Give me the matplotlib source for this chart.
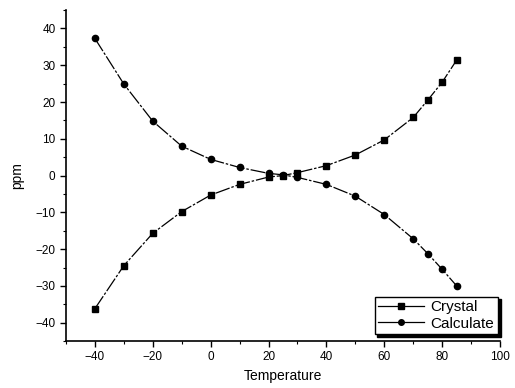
import matplotlib
matplotlib.use("Agg")
from matplotlib import pyplot as plt
from matplotlib.ticker import MultipleLocator

# Values
temperature = [-40, -30, -20, -10, 0, 10, 20, 25, 30, 40, 50, 60, 70, 75, 80, 85]
crystal = [-36.2, -24.5, -15.7, -9.8, -5.3, -2.4, -0.4, 0.0, 0.8, 2.7, 5.6, 9.7, 15.8, 20.5, 25.4, 31.4]
calculate = [37.3, 24.9, 14.8, 8.0, 4.4, 2.2, 0.6, 0.2, -0.5, -2.4, -5.6, -10.6, -17.2, -21.2, -25.5, -30.0]

plt.rcParams['font.family'] = ['Liberation Sans', 'DejaVu Sans']

fig = plt.figure(figsize=(5.15, 3.88), dpi=100)
ax = fig.add_axes([0.128, 0.121, 0.843, 0.853])

line_style = (0, (12, 1.5, 2, 1.5))
ax.plot(temperature, crystal, color='black', linestyle=line_style, linewidth=0.9,
        marker='s', markersize=4.5, label='Crystal')
ax.plot(temperature, calculate, color='black', linestyle=line_style, linewidth=0.9,
        marker='o', markersize=4.5, label='Calculate')

ax.set_xlim(-50, 100)
ax.set_ylim(-45, 45)
ax.xaxis.set_major_locator(MultipleLocator(20))
ax.xaxis.set_minor_locator(MultipleLocator(10))
ax.yaxis.set_major_locator(MultipleLocator(10))
ax.yaxis.set_minor_locator(MultipleLocator(5))
ax.set_xticks([-40, -20, 0, 20, 40, 60, 80, 100])

ax.spines['top'].set_visible(False)
ax.spines['right'].set_visible(False)
for s in ('left', 'bottom'):
    ax.spines[s].set_linewidth(1.2)
ax.tick_params(which='major', direction='out', length=4, width=1, labelsize=8.5)
ax.tick_params(which='minor', direction='out', length=2.5, width=0.8)

ax.set_xlabel('Temperature', fontsize=10)
ax.set_ylabel('ppm', fontsize=10, labelpad=8)

leg = ax.legend(loc='lower right', bbox_to_anchor=(0.995, 0.02), borderaxespad=0, fontsize=11,
                frameon=True, fancybox=False, shadow={'color': 'black', 'alpha': 1.0, 'ox': 2, 'oy': -2},
                edgecolor='black', handlelength=3.0, handletextpad=0.4, borderpad=0.25,
                labelspacing=0.15)
leg.get_frame().set_linewidth(1.0)
for h in leg.get_lines():
    h.set_linestyle('-')
    h.set_markersize(4)

fig.savefig('out.png', dpi=100)
